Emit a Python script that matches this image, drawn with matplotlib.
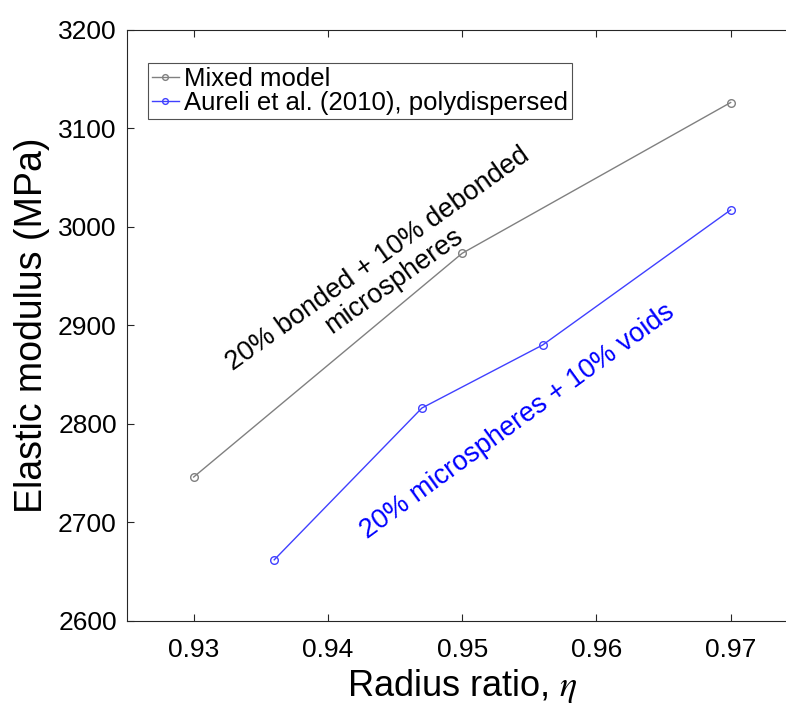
import matplotlib
matplotlib.use('Agg')
import matplotlib.pyplot as plt

# data
mixed_eta = [0.93, 0.95, 0.97]
mixed_E = [2746, 2973, 3126]
aureli_eta = [0.936, 0.947, 0.956, 0.97]
aureli_E = [2662, 2816, 2880, 3017]

xticks = [0.93, 0.94, 0.95, 0.96, 0.97]
yticks = [2600, 2700, 2800, 2900, 3000, 3100, 3200]

plt.rcParams['font.family'] = ['Liberation Sans', 'DejaVu Sans']
plt.rcParams['mathtext.fontset'] = 'stix'

fig = plt.figure(figsize=(7.86, 7.04), dpi=100)
ax = fig.add_axes([0.161, 0.118, 0.854, 0.840])

ax.plot(mixed_eta, mixed_E, '-o', color='#808080', lw=1.0, ms=5.5,
        mfc='none', mew=1.0, label='Mixed model')
ax.plot(aureli_eta, aureli_E, '-o', color='#4040ff', lw=1.0, ms=5.5,
        mfc='none', mew=1.0, label='Aureli et al. (2010), polydispersed')

ax.set_xlim(0.925, 0.975)
ax.set_ylim(2600, 3200)
ax.set_xticks(xticks)
ax.set_xticklabels([f'{t:.2f}' for t in xticks])
ax.set_yticks(yticks)

ax.tick_params(direction='in', length=5, width=0.8, labelsize=19,
               top=True, right=False, colors='#262626', labelcolor='black')
ax.tick_params(axis='x', pad=12)
ax.tick_params(axis='y', pad=7)
for s in ax.spines.values():
    s.set_color('#262626')
    s.set_linewidth(0.8)
ax.spines['right'].set_visible(False)

ax.set_xlabel(r'Radius ratio, $\eta$', fontsize=26, labelpad=4)
ax.set_ylabel('Elastic modulus (MPa)', fontsize=27, labelpad=6)

ax.text(0.9443, 2956, '20% bonded + 10% debonded\nmicrospheres', fontsize=19.5,
        rotation=35.5, rotation_mode='anchor', ha='center', va='center',
        color='black', linespacing=1.1)
ax.text(0.9541, 2802, '20% microspheres + 10% voids', fontsize=19.5,
        rotation=36, rotation_mode='anchor', ha='center', va='center',
        color='blue')

leg = ax.legend(loc='upper left', bbox_to_anchor=(0.032, 0.943), borderaxespad=0,
                fontsize=18.5, frameon=True, fancybox=False, handlelength=1.05,
                handletextpad=0.2, borderpad=0.15, labelspacing=0.0,
                markerscale=0.75)
leg.get_frame().set_edgecolor('#262626')
leg.get_frame().set_linewidth(0.8)

fig.savefig('out.png', dpi=100)
